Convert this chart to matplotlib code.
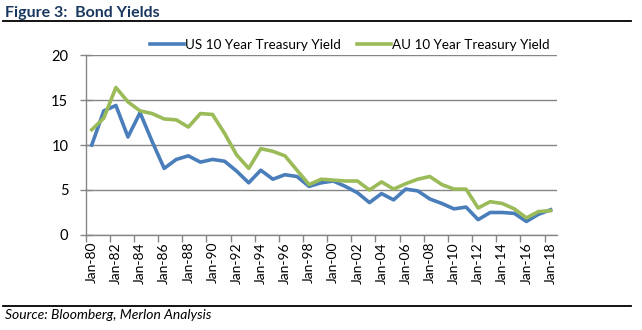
import matplotlib

matplotlib.use("Agg")
import matplotlib.pyplot as plt
from matplotlib.lines import Line2D

# annual observations, Jan-80 .. Jan-18
years = list(range(1980, 2019))
us_10y = [10.0, 13.8, 14.4, 10.9, 13.6, 10.4, 7.4, 8.4, 8.8, 8.1,
          8.4, 8.2, 7.1, 5.8, 7.2, 6.2, 6.7, 6.5, 5.4, 5.8,
          6.0, 5.4, 4.7, 3.6, 4.6, 3.9, 5.1, 4.9, 4.0, 3.5,
          2.9, 3.1, 1.7, 2.5, 2.5, 2.4, 1.5, 2.3, 2.8]
au_10y = [11.7, 13.0, 16.4, 14.8, 13.8, 13.5, 12.9, 12.8, 12.0, 13.5,
          13.4, 11.3, 8.9, 7.4, 9.6, 9.3, 8.8, 7.2, 5.6, 6.2,
          6.1, 6.0, 6.0, 5.0, 5.9, 5.1, 5.7, 6.2, 6.5, 5.6,
          5.1, 5.1, 3.0, 3.7, 3.5, 2.9, 1.9, 2.6, 2.7]
x_labels = [f"Jan-{y % 100:02d}" for y in years]

US_COLOR = "#4A7EBB"
AU_COLOR = "#9BBB59"
GRID = "#868686"
FONT = "Lato"

plt.rcParams["font.family"] = [FONT, "DejaVu Sans"]

fig = plt.figure(figsize=(6.42, 3.30), dpi=100)
ax = fig.add_axes([0.1335, 0.288, 0.7335, 0.545])

xs = list(range(len(years)))
ax.plot(xs, us_10y, color=US_COLOR, lw=2.6, solid_joinstyle="round",
        label="US 10 Year Treasury Yield")
ax.plot(xs, au_10y, color=AU_COLOR, lw=2.6, solid_joinstyle="round",
        label="AU 10 Year Treasury Yield")

ax.set_xlim(-0.5, len(years) - 0.5)
ax.set_ylim(0, 20)
ax.set_yticks([0, 5, 10, 15, 20])
ax.yaxis.grid(True, color=GRID, lw=1.0)
ax.set_axisbelow(True)

# ticks between categories, labels on every other category
ax.set_xticks([i - 0.5 for i in range(0, len(years), 2)])
ax.set_xticklabels([])
ax.set_xticks(xs[::2], minor=True)
ax.set_xticklabels(x_labels[::2], minor=True, rotation=90, fontsize=10)
ax.tick_params(axis="x", which="major", length=5, color=GRID, width=1)
ax.tick_params(axis="x", which="minor", length=0, pad=5)
ax.tick_params(axis="y", direction="inout", length=9, color=GRID,
               width=1, labelsize=10.5, pad=8)

for side in ["top", "right"]:
    ax.spines[side].set_visible(False)
for side in ["left", "bottom"]:
    ax.spines[side].set_color(GRID)
    ax.spines[side].set_linewidth(1.0)

ax.legend(loc="center", bbox_to_anchor=(0.545, 0.865), bbox_transform=fig.transFigure,
          ncol=2, frameon=False, fontsize=9.7, handlelength=2.5,
          handletextpad=0.1, columnspacing=1.2)

fig.text(0.008, 0.962, "Figure 3:  Bond Yields", fontsize=11.5, fontweight="bold",
         color="#17375E", va="center", ha="left")
fig.add_artist(Line2D([0.004, 0.983], [0.935, 0.935], color="black", lw=1.3))
fig.add_artist(Line2D([0.004, 0.983], [0.073, 0.073], color="black", lw=1.3))
fig.text(0.008, 0.045, "Source: Bloomberg, Merlon Analysis", fontsize=10,
         style="italic", va="center", ha="left")

fig.savefig("out.png", dpi=100)
